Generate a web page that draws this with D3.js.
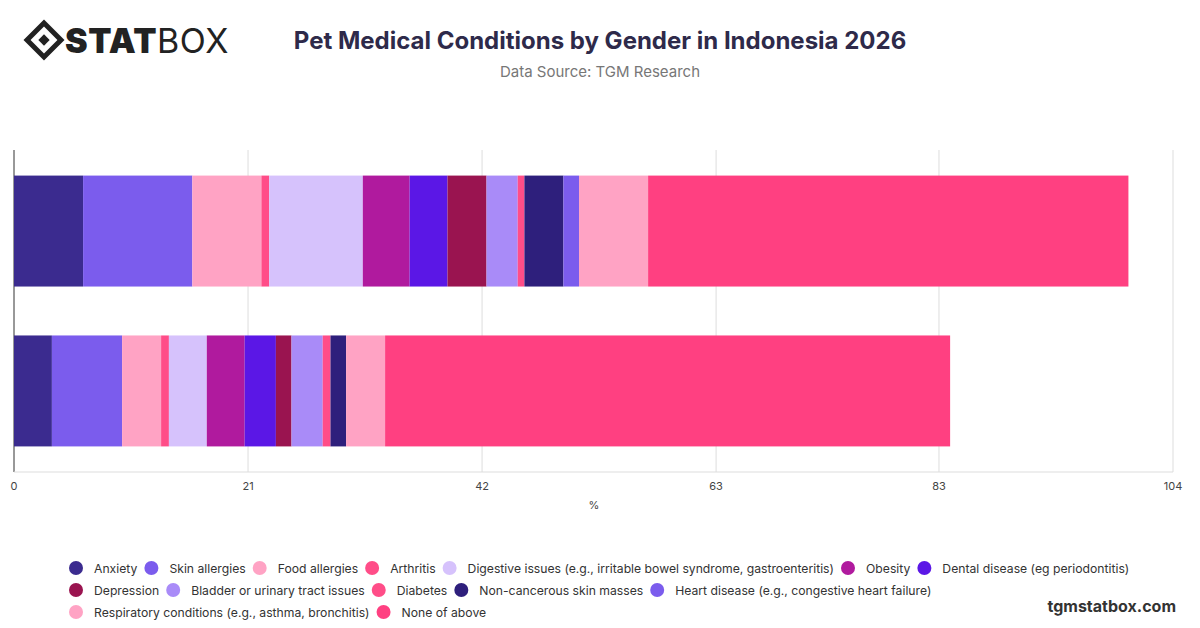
<!DOCTYPE html>
<html><head><meta charset="utf-8">
<script src="https://cdn.jsdelivr.net/npm/d3@7"></script>
<style>body{margin:0;background:#fff;font-family:Inter,"Noto Sans",sans-serif}</style>
</head><body><svg id="c" width="1200" height="628"></svg>
<script>
// categories and values
var genders = ["Male", "Female"];
var conditions = ["Anxiety", "Skin allergies", "Food allergies", "Arthritis",
  "Digestive issues (e.g., irritable bowel syndrome, gastroenteritis)", "Obesity",
  "Dental disease (eg periodontitis)", "Depression", "Bladder or urinary tract issues",
  "Diabetes", "Non-cancerous skin masses", "Heart disease (e.g., congestive heart failure)",
  "Respiratory conditions (e.g., asthma, bronchitis)", "None of above"];
var maleValues = [6.2, 9.8, 6.2, 0.7, 8.4, 4.2, 3.4, 3.5, 2.8, 0.6, 3.5, 1.4, 6.2, 43.1];
var femaleValues = [3.4, 6.3, 3.5, 0.7, 3.4, 3.4, 2.8, 1.4, 2.8, 0.7, 1.4, 0, 3.5, 50.7];
var colors = ["#3b2b8f", "#7b5ced", "#ffa3c4", "#ff4d88", "#d6c2fc", "#b01a9e",
  "#5b17e6", "#9a1450", "#a98bf8", "#ff4d88", "#2e1f7c", "#7b5ced", "#ffa3c4", "#ff4081"];
var ticks = [0, 21, 42, 63, 83, 104];

var svg = d3.select("#c");
var x = d3.scaleLinear().domain([0, 104]).range([14, 1173]);
var y = d3.scaleBand().domain(genders).range([150, 472]).paddingInner(0.306).paddingOuter(0.16);

// gridlines
svg.append("g").selectAll("line").data(ticks).join("line")
  .attr("x1", d => x(d)).attr("x2", d => x(d)).attr("y1", 150).attr("y2", 472)
  .attr("stroke", d => d === 0 ? "#333" : "#ddd");
svg.append("line").attr("x1", 14).attr("x2", 1173).attr("y1", 472).attr("y2", 472).attr("stroke", "#ddd");
svg.append("g").selectAll("text").data(ticks).join("text")
  .attr("x", d => x(d)).attr("y", 490).attr("text-anchor", "middle")
  .attr("font-size", 11).attr("fill", "#444").text(d => d);
svg.append("text").attr("x", 594).attr("y", 509).attr("text-anchor", "middle")
  .attr("font-size", 11).attr("fill", "#444").text("%");

// stacked bars
[maleValues, femaleValues].forEach(function(vals, gi) {
  var acc = 0;
  vals.forEach(function(v, i) {
    svg.append("rect").attr("x", x(acc)).attr("width", x(acc + v) - x(acc))
      .attr("y", y(genders[gi])).attr("height", y.bandwidth()).attr("fill", colors[i]);
    acc += v;
  });
});

// title
svg.append("text").attr("x", 600).attr("y", 49).attr("text-anchor", "middle")
  .attr("font-size", 24).attr("font-weight", 700).attr("fill", "#2e2a4a")
  .text("Pet Medical Conditions by Gender in Indonesia 2026");
svg.append("text").attr("x", 600).attr("y", 77).attr("text-anchor", "middle")
  .attr("font-size", 15).attr("fill", "#777").text("Data Source: TGM Research");

// logo
var lg = svg.append("g").attr("transform", "translate(44,40)");
lg.append("rect").attr("x", -12).attr("y", -12).attr("width", 24).attr("height", 24)
  .attr("transform", "rotate(45)").attr("fill", "none").attr("stroke", "#222").attr("stroke-width", 5);
lg.append("rect").attr("x", -4).attr("y", -4).attr("width", 8).attr("height", 8)
  .attr("transform", "rotate(45)").attr("fill", "#222");
svg.append("text").attr("x", 65).attr("y", 53).attr("font-size", 34).attr("fill", "#222")
  .attr("letter-spacing", 0.5)
  .html('<tspan font-weight="900">STAT</tspan><tspan font-weight="400">BOX</tspan>');

// legend
var rows = [[0, 1, 2, 3, 4, 5, 6], [7, 8, 9, 10, 11], [12, 13]];
rows.forEach(function(r, ri) {
  var cx = 76;
  r.forEach(function(i) {
    var ly = 568 + ri * 22;
    svg.append("circle").attr("cx", cx).attr("cy", ly).attr("r", 7).attr("fill", colors[i]);
    var t = svg.append("text").attr("x", cx + 18).attr("y", ly + 4.5).attr("font-size", 12.2)
      .attr("fill", "#333").text(conditions[i]);
    cx += 18 + t.node().getComputedTextLength() + 14;
  });
});
svg.append("text").attr("x", 1176).attr("y", 612).attr("text-anchor", "end")
  .attr("font-size", 16).attr("font-weight", 700).attr("fill", "#333").text("tgmstatbox.com");
</script></body></html>
